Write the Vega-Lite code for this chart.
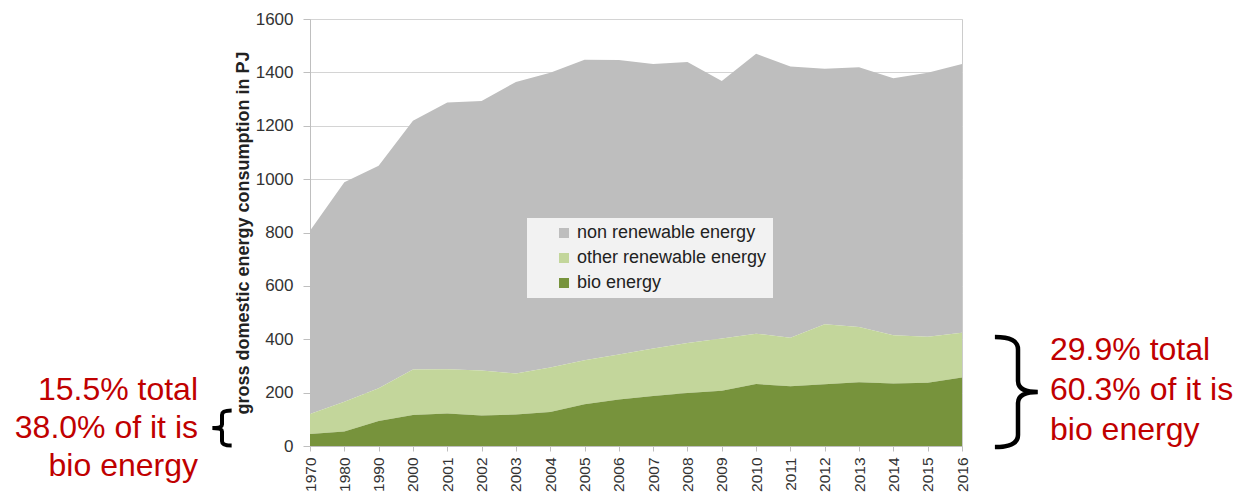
{
  "$schema": "https://vega.github.io/schema/vega-lite/v6.json",
  "autosize": {"type": "none"},
  "padding": {"left": 310, "top": 19, "right": 285, "bottom": 51},
  "width": 652,
  "height": 427,
  "background": "white",
  "config": {
    "font": "Liberation Sans",
    "view": {"stroke": "#cccccc", "strokeWidth": 1},
    "axis": {
      "labelFont": "Liberation Sans",
      "titleFont": "Liberation Sans",
      "labelColor": "#333333",
      "domainColor": "#bfbfbf",
      "tickColor": "#bfbfbf",
      "gridColor": "#d4d4d4"
    }
  },
  "data": {
    "values": [
      {"year": "1970", "bio": 45, "renew": 120, "total": 807},
      {"year": "1980", "bio": 54, "renew": 166, "total": 988},
      {"year": "1990", "bio": 94, "renew": 216, "total": 1050},
      {"year": "2000", "bio": 116, "renew": 287, "total": 1219},
      {"year": "2001", "bio": 122, "renew": 288, "total": 1287},
      {"year": "2002", "bio": 114, "renew": 283, "total": 1293},
      {"year": "2003", "bio": 118, "renew": 272, "total": 1364},
      {"year": "2004", "bio": 127, "renew": 294, "total": 1399},
      {"year": "2005", "bio": 156, "renew": 321, "total": 1447},
      {"year": "2006", "bio": 174, "renew": 343, "total": 1446},
      {"year": "2007", "bio": 187, "renew": 365, "total": 1431},
      {"year": "2008", "bio": 199, "renew": 386, "total": 1439},
      {"year": "2009", "bio": 207, "renew": 403, "total": 1368},
      {"year": "2010", "bio": 232, "renew": 421, "total": 1470},
      {"year": "2011", "bio": 224, "renew": 406, "total": 1422},
      {"year": "2012", "bio": 231, "renew": 456, "total": 1414},
      {"year": "2013", "bio": 239, "renew": 446, "total": 1419},
      {"year": "2014", "bio": 234, "renew": 415, "total": 1378},
      {"year": "2015", "bio": 237, "renew": 409, "total": 1399},
      {"year": "2016", "bio": 257, "renew": 424, "total": 1431}
    ]
  },
  "encoding": {
    "x": {
      "field": "year",
      "type": "ordinal",
      "sort": null,
      "scale": {"type": "point", "padding": 0},
      "axis": {
        "title": null,
        "labelAngle": 270,
        "labelFontSize": 15.5,
        "tickSize": 5,
        "labelPadding": 6,
        "grid": false
      }
    }
  },
  "layer": [
    {
      "mark": {"type": "area", "interpolate": "linear"},
      "encoding": {
        "y": {
          "field": "total",
          "type": "quantitative",
          "scale": {"domain": [0, 1600], "nice": false},
          "axis": {
            "title": "gross domestic energy consumption in PJ",
            "titleFontSize": 18,
            "titleFontWeight": "bold",
            "titleColor": "#222222",
            "titlePadding": 3,
            "format": "d",
            "values": [0, 200, 400, 600, 800, 1000, 1200, 1400, 1600],
            "labelFontSize": 17,
            "labelPadding": 10,
            "tickSize": 7,
            "grid": true
          }
        },
        "y2": {"field": "renew"},
        "color": {
          "datum": "non renewable energy",
          "type": "nominal",
          "scale": {
            "domain": ["non renewable energy", "other renewable energy", "bio energy"],
            "range": ["#bebebe", "#c3d69b", "#77933c"]
          },
          "legend": {
            "title": null,
            "orient": "none",
            "legendX": 217,
            "legendY": 199,
            "fillColor": "#f2f2f2",
            "padding": 6,
            "symbolOffset": 22,
            "symbolType": "square",
            "symbolSize": 100,
            "symbolStrokeWidth": 0,
            "labelFontSize": 18,
            "labelLimit": 400,
            "labelColor": "#222222",
            "labelFont": "Liberation Sans",
            "rowPadding": 7
          }
        }
      }
    },
    {
      "mark": {"type": "area", "interpolate": "linear"},
      "encoding": {
        "y": {"field": "renew", "type": "quantitative"},
        "y2": {"field": "bio"},
        "color": {"datum": "other renewable energy", "type": "nominal"}
      }
    },
    {
      "mark": {"type": "area", "interpolate": "linear"},
      "encoding": {
        "y": {"field": "bio", "type": "quantitative"},
        "color": {"datum": "bio energy", "type": "nominal"}
      }
    },
    {
      "data": {"values": [{"note": ["15.5% total", "38.0% of it is", "bio energy"]}]},
      "mark": {"type": "text", "align": "right", "baseline": "middle", "dx": -112, "dy": -38, "fontSize": 32, "lineHeight": 38, "color": "#c00000", "font": "Liberation Sans"},
      "encoding": {
        "x": {"datum": "1970", "type": "ordinal"},
        "y": {"datum": 67, "type": "quantitative"},
        "text": {"field": "note"}
      }
    },
    {
      "data": {"values": [{"note": ["29.9% total", "60.3% of it is", "bio energy"]}]},
      "mark": {"type": "text", "align": "left", "baseline": "middle", "dx": 88, "dy": -41, "fontSize": 32, "lineHeight": 40, "color": "#c00000", "font": "Liberation Sans"},
      "encoding": {
        "x": {"datum": "2016", "type": "ordinal"},
        "y": {"datum": 205, "type": "quantitative"},
        "text": {"field": "note"}
      }
    },
    {
      "data": {"values": [{"brace": "left"}]},
      "mark": {"type": "point", "shape": "M0.55,-1 Q0,-1 0,-0.75 L0,-0.2 Q0,0 -0.55,0 Q0,0 0,0.2 L0,0.75 Q0,1 0.55,1", "filled": false, "stroke": "black", "strokeWidth": 4, "opacity": 1, "size": 1225, "xOffset": -88},
      "encoding": {
        "x": {"datum": "1970", "type": "ordinal"},
        "y": {"datum": 67, "type": "quantitative"}
      }
    },
    {
      "data": {"values": [{"brace": "right"}]},
      "mark": {"type": "point", "shape": "M-0.42,-1 Q0,-1 0,-0.78 L0,-0.2 Q0,0 0.36,0 Q0,0 0,0.2 L0,0.78 Q0,1 -0.42,1", "filled": false, "stroke": "black", "strokeWidth": 4.5, "opacity": 1, "size": 12100, "xOffset": 56},
      "encoding": {
        "x": {"datum": "2016", "type": "ordinal"},
        "y": {"datum": 202, "type": "quantitative"}
      }
    }
  ]
}
